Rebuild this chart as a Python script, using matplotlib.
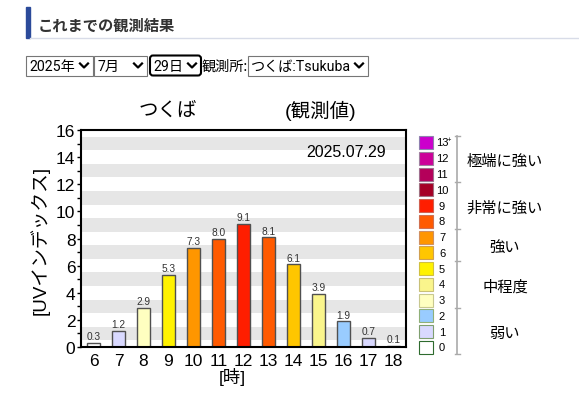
import matplotlib
matplotlib.use('Agg')
import matplotlib.pyplot as plt
from matplotlib.patches import Rectangle, FancyBboxPatch

plt.rcParams['font.family'] = ['Liberation Sans', 'Noto Sans CJK JP', 'DejaVu Sans']

# observed UV index per hour, Tsukuba 2025-07-29
hours = [6, 7, 8, 9, 10, 11, 12, 13, 14, 15, 16, 17, 18]
uv = [0.3, 1.2, 2.9, 5.3, 7.3, 8.0, 9.1, 8.1, 6.1, 3.9, 1.9, 0.7, 0.1]

# colour scale, index 0 .. 13+
scale_labels = ['0', '1', '2', '3', '4', '5', '6', '7', '8', '9', '10', '11', '12', '13']
scale_colors = ['#ffffff', '#d9d9ff', '#99ccff', '#ffffc0', '#faf58c', '#fff200', '#ffc600',
                '#ff9600', '#ff5a00', '#ff1e00', '#a50026', '#b4005a', '#cc0099', '#cc00cc']
scale_edges = ['#2e6b2e', '#7f9f6f', '#90b078', '#c8c890', '#c8c078', '#d0c040', '#d0a050',
               '#d09060', '#d07050', '#d06050', '#a07080', '#a07090', '#a080a0', '#9080b0']
levels = ['弱い', '中程度', '強い', '非常に強い', '極端に強い']
level_bounds = [0, 3, 6, 8, 11, 14]

date_text = '2025.07.29'
W, H = 579, 406

fig = plt.figure(figsize=(W / 100, H / 100), dpi=100)

# page overlay in pixel coordinates (y down)
ov = fig.add_axes([0, 0, 1, 1])
ov.set_xlim(0, W)
ov.set_ylim(H, 0)
ov.axis('off')

# header
ov.add_patch(Rectangle((26, 8), 4, 31, color='#2b4a9a'))
ov.plot([30, W], [38.5, 38.5], color='#d8dce8', lw=1)
ov.text(38, 26, 'これまでの観測結果', fontsize=11, fontweight='bold', color='#333333',
        va='center', ha='left', family=['Noto Sans CJK JP'])

# dropdowns
boxes = [(26, 93, '2025年'), (94, 147, '7月'), (150, 201, '29日'), (248, 368, 'つくば:Tsukuba')]
for i, (x0, x1, label) in enumerate(boxes):
    if i == 2:
        ov.add_patch(FancyBboxPatch((x0, 56.5), x1 - x0, 20, boxstyle='round,pad=0,rounding_size=3',
                                    facecolor='white', edgecolor='black', lw=1.5))
    else:
        ov.add_patch(Rectangle((x0, 56.5), x1 - x0, 20, facecolor='white', edgecolor='#767676', lw=0.8))
    ov.text(x0 + 3, 66.5, label, fontsize=10.2, va='center', ha='left',
            family=['Roboto', 'Noto Sans CJK JP'])
    cx = x1 - 9
    ov.plot([cx - 4, cx, cx + 4], [64.5, 68.5, 64.5], color='black', lw=1.6)
ov.text(202, 66.5, '観測所:', fontsize=10.2, va='center', ha='left', family=['Noto Sans CJK JP'])

# chart titles
ov.text(168, 111, 'つくば', fontsize=14, ha='center', va='center')
ov.text(321, 111, '(観測値)', fontsize=14, ha='center', va='center')
ov.text(40, 240, '[UVインデックス]', fontsize=13.5, rotation=90, ha='center', va='center')
ov.text(232, 377, '[時]', fontsize=12.5, ha='center', va='center')

# legend
pitch = 15.77
for i, (lab, fc, ec) in enumerate(zip(scale_labels, scale_colors, scale_edges)):
    cy = 348.5 - i * pitch
    ov.add_patch(Rectangle((418.5, cy - 6.5), 14, 13, facecolor=fc, edgecolor=ec, lw=0.8))
    ov.text(442, cy, lab, fontsize=8, ha='center', va='center')
ov.text(449, 348.5 - 13 * pitch - 3, '+', fontsize=5.5, ha='center', va='center')

top_y = 348.5 - 13 * pitch - 6.5
bot_y = 348.5 + 6.5
ov.plot([457, 457], [top_y, bot_y], color='#aaaaaa', lw=1.2)
bound_y = [348.5 - (b - 0.5) * pitch for b in level_bounds]
bound_y[0] = bot_y
bound_y[-1] = top_y
for y in bound_y:
    ov.plot([454.5, 459.5], [y, y], color='#aaaaaa', lw=1)
for j, name in enumerate(levels):
    ymid = (bound_y[j] + bound_y[j + 1]) / 2 + 2
    ov.text(505, ymid, name, fontsize=11, ha='center', va='center')

# main chart
ax = fig.add_axes([81 / W, (H - 348) / H, 325 / W, 217 / H])
for k in range(8):
    ax.axhspan(2 * k + 0.5, 2 * k + 1.5, color='#e6e6e6', lw=0, zorder=0)

x = list(range(len(hours)))
bar_colors = [scale_colors[min(int(v + 0.5), 13)] for v in uv]
ax.bar(x, uv, width=0.52, color=bar_colors, edgecolor='#505050', linewidth=1, zorder=2)
for xi, v in zip(x, uv):
    ax.text(xi, v + 0.12, f'{v:.1f}', ha='center', va='bottom', fontsize=7.3, color='#333333', zorder=3)

ax.text(0.815, 0.9, date_text, transform=ax.transAxes, fontsize=11.5, ha='center', va='center')

ax.set_xlim(-0.5, len(hours) - 0.5)
ax.set_ylim(0, 16)
ax.set_xticks(x)
ax.set_xticklabels([str(h) for h in hours])
ax.set_yticks(range(0, 17, 2))
ax.set_yticks(range(1, 17, 2), minor=True)
ax.tick_params(axis='x', length=0, pad=4, labelsize=12.5)
ax.tick_params(axis='y', which='major', length=3, width=1, pad=1, labelsize=12.5, direction='out')
ax.tick_params(axis='y', which='minor', length=3, width=1, direction='out')
for s in ax.spines.values():
    s.set_linewidth(1.5)
    s.set_color('black')

fig.savefig('out.png', dpi=100)
